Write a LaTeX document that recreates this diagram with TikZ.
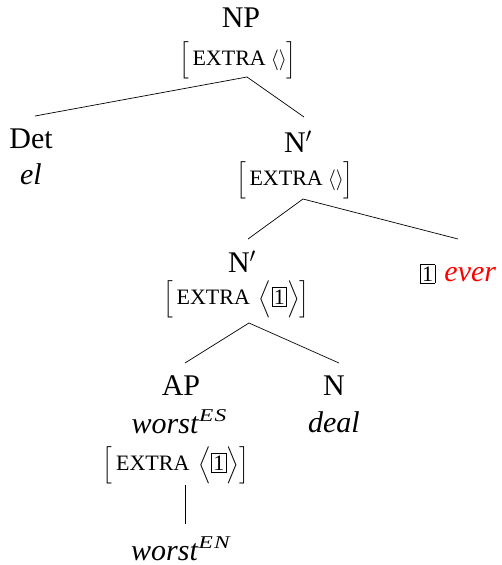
\documentclass[tikz,border=0pt]{standalone}
\usepackage{amsmath}
\usepackage{graphicx}
\usepackage{fontspec}
\newfontfamily\tms{Liberation Serif}
\newcommand{\capsx}{\text{\tms\fontsize{22}{26}\selectfont EXTRA}}
\newcommand{\tagb}[1]{{\setlength{\fboxsep}{1.6pt}\setlength{\fboxrule}{0.7pt}\fbox{\tms\fontsize{22}{26}\selectfont #1}}}
\newcommand{\avmE}{$\Big[\,\capsx\hspace{5pt}\langle\rangle\Big]$}
\newcommand{\avmT}{$\Big[\,\capsx\hspace{9pt}\Big\langle\text{\tagb{1}}\Big\rangle\Big]$}
\newcommand{\supx}[1]{\raisebox{12pt}{\scalebox{1.3}[1]{\fontsize{18}{20}\selectfont\textit{#1}}}}
\begin{document}
\begin{tikzpicture}[x=1pt,y=-1pt,
  lab/.style={anchor=base,inner sep=0pt,font=\tms\fontsize{30}{36}\selectfont},
  avm/.style={anchor=center,inner sep=0pt,font=\tms\fontsize{20}{24}\selectfont},
  br/.style={line width=0.7pt}]
\useasboundingbox (0,0) rectangle (501,565);
% labels
\node[lab] (np) at (241,27) {NP};
\node[avm] (a1) at (238,60) {\avmE};
\node[lab] (det) at (31,148) {Det};
\node[lab] (el) at (31,184) {\textit{el}};
\node[lab] (n2) at (298,152) {N$'$};
\node[avm] (a2) at (295,180.5) {\avmE};
\node[lab] (n3) at (242,272) {N$'$};
\node[avm] (a3) at (236.5,299) {\avmT};
\node[lab] (ever) at (458,281) {\tagb{1}\hspace{9pt}\textcolor{red}{\textit{ever}}};
\node[lab] (ap) at (181,395) {AP};
\node[lab] (wes) at (179,433) {\textit{worst}\supx{E\kern1pt S}};
\node[lab] (n) at (334,395) {N};
\node[lab] (deal) at (334,432) {\textit{deal}};
\node[avm] (a4) at (176,465) {\avmT};
\node[lab] (wen) at (181,560) {\textit{worst}\supx{E\kern1pt N}};
% attachment points
\coordinate (a1b) at (247,77);
\coordinate (dett) at (35,116);
\coordinate (n2t) at (304,117);
\coordinate (a2b) at (303,199);
\coordinate (n3t) at (248,239);
\coordinate (evt) at (458,239);
\coordinate (a3b) at (249,323);
\coordinate (apt) at (185,363);
\coordinate (nt) at (339,363);
\coordinate (a4b) at (185,485);
\coordinate (went) at (185,524);
\draw[br] (a1b) -- (dett);
\draw[br] (a1b) -- (n2t);
\draw[br] (a2b) -- (n3t);
\draw[br] (a2b) -- (evt);
\draw[br] (a3b) -- (apt);
\draw[br] (a3b) -- (nt);
\draw[br] (a4b) -- (went);
\end{tikzpicture}
\end{document}
